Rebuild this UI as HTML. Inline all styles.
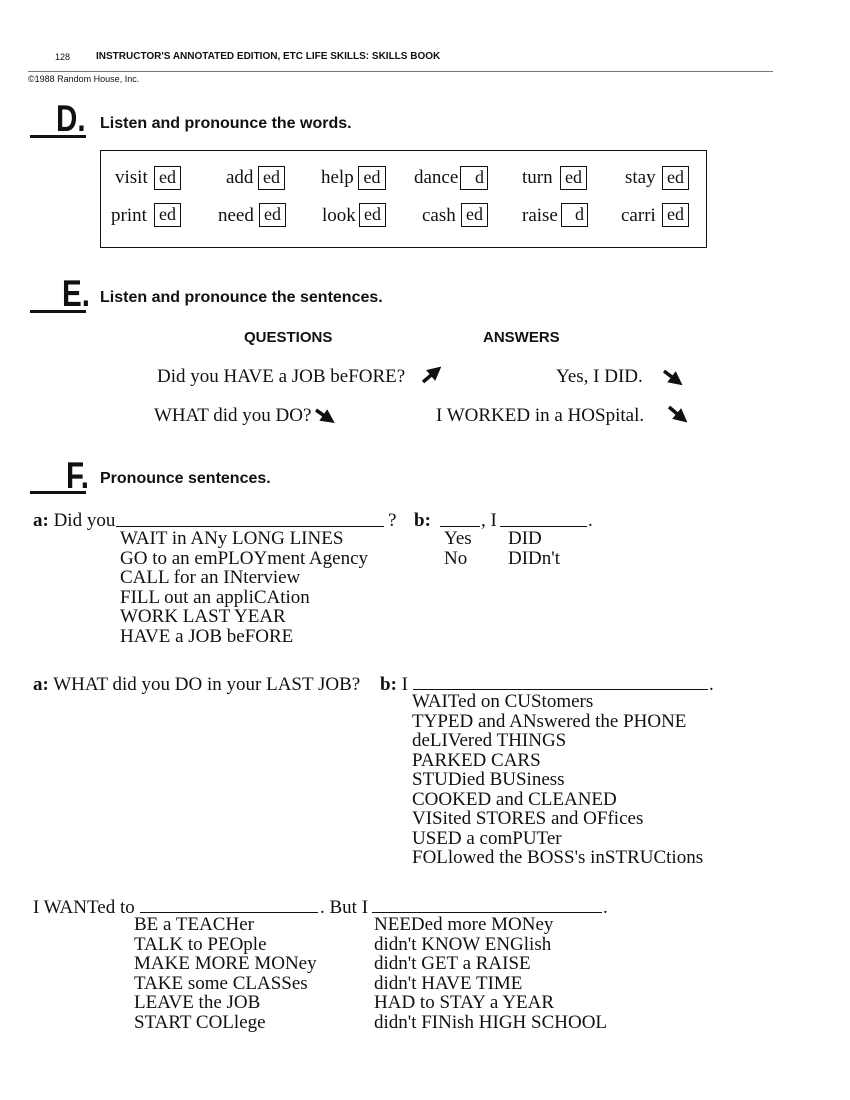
<!DOCTYPE html>
<html><head><meta charset="utf-8"><style>
body{margin:0;background:#fff;}
#p{position:relative;width:850px;height:1100px;overflow:hidden;background:#fff;color:#111;}
.s{position:absolute;font-family:"Liberation Serif",serif;font-size:19px;line-height:20px;white-space:nowrap;}
.a{position:absolute;font-family:"Liberation Sans",sans-serif;white-space:nowrap;}
.b{position:absolute;border:1.5px solid #111;box-sizing:border-box;font-family:"Liberation Serif",serif;font-size:18px;line-height:21px;text-align:center;}
.L{position:absolute;font-family:"Liberation Sans",sans-serif;font-weight:bold;font-size:37px;line-height:37px;transform:scaleX(0.8);transform-origin:left;}
.u{position:absolute;height:2.5px;background:#111;}
.h{position:absolute;font-family:"Liberation Sans",sans-serif;font-weight:bold;font-size:16px;line-height:18px;}
.ln{position:absolute;height:1px;background:#111;}
</style></head><body><div id="p">
<div class="a" style="left:55px;top:52px;font-size:9px;">128</div>
<div class="a" style="left:96px;top:51px;font-size:10px;font-weight:bold;">INSTRUCTOR'S ANNOTATED EDITION, ETC LIFE SKILLS: SKILLS BOOK</div>
<div class="ln" style="left:28px;top:71px;width:745px;background:#777;"></div>
<div class="a" style="left:28px;top:74px;font-size:9px;">©1988 Random House, Inc.</div>

<div class="L" style="left:56px;top:100px;">D.</div>
<div class="u" style="left:30px;top:135px;width:56px;"></div>
<div class="h" style="left:100px;top:115px;">Listen and pronounce the words.</div>
<div style="position:absolute;left:100px;top:150px;width:607px;height:98px;border:1.5px solid #111;box-sizing:border-box;"></div>

<div class="s" style="left:115px;top:168px;">visit</div><div class="b" style="left:154px;top:166px;width:27px;height:24px;">ed</div>
<div class="s" style="left:226px;top:168px;">add</div><div class="b" style="left:258px;top:166px;width:27px;height:24px;">ed</div>
<div class="s" style="left:321px;top:168px;">help</div><div class="b" style="left:358px;top:166px;width:28px;height:24px;">ed</div>
<div class="s" style="left:414px;top:168px;">dance</div><div class="b" style="left:460px;top:166px;width:28px;height:24px;text-align:right;padding-right:3px;">d</div>
<div class="s" style="left:522px;top:168px;">turn</div><div class="b" style="left:560px;top:166px;width:27px;height:24px;">ed</div>
<div class="s" style="left:625px;top:168px;">stay</div><div class="b" style="left:662px;top:166px;width:27px;height:24px;">ed</div>

<div class="s" style="left:111px;top:206px;">print</div><div class="b" style="left:154px;top:203px;width:27px;height:24px;">ed</div>
<div class="s" style="left:218px;top:206px;">need</div><div class="b" style="left:259px;top:203px;width:27px;height:24px;">ed</div>
<div class="s" style="left:322px;top:206px;">look</div><div class="b" style="left:359px;top:203px;width:27px;height:24px;">ed</div>
<div class="s" style="left:422px;top:206px;">cash</div><div class="b" style="left:461px;top:203px;width:27px;height:24px;">ed</div>
<div class="s" style="left:522px;top:206px;">raise</div><div class="b" style="left:561px;top:203px;width:27px;height:24px;text-align:right;padding-right:3px;">d</div>
<div class="s" style="left:621px;top:206px;">carri</div><div class="b" style="left:662px;top:203px;width:27px;height:24px;">ed</div>

<div class="L" style="left:62px;top:275px;">E.</div>
<div class="u" style="left:30px;top:310px;width:56px;"></div>
<div class="h" style="left:100px;top:289px;">Listen and pronounce the sentences.</div>
<div class="h" style="left:244px;top:329px;font-size:15px;">QUESTIONS</div>
<div class="h" style="left:483px;top:329px;font-size:15px;">ANSWERS</div>
<div class="s" style="left:157px;top:367px;">Did you HAVE a JOB beFORE?</div>
<div class="s" style="left:556px;top:367px;">Yes, I DID.</div>
<div class="s" style="left:154px;top:406px;">WHAT did you DO?</div>
<div class="s" style="left:436px;top:406px;">I WORKED in a HOSpital.</div>
<svg style="position:absolute;left:0;top:0" width="850" height="1100">
<defs><marker id="m" markerWidth="4" markerHeight="4" refX="2" refY="2" orient="auto"><path d="M0,0L4,2L0,4z" fill="#111"/></marker></defs>
<g stroke="#111" stroke-width="3.5" marker-end="url(#m)">
<line x1="423" y1="382" x2="436" y2="371"/>
<line x1="664" y1="371" x2="677" y2="381"/>
<line x1="316" y1="410" x2="329" y2="419"/>
<line x1="669" y1="407" x2="682" y2="418"/>
</g></svg>

<div class="L" style="left:66px;top:457px;">F.</div>
<div class="u" style="left:30px;top:491px;width:56px;"></div>
<div class="h" style="left:100px;top:470px;">Pronounce sentences.</div>

<div class="s" style="left:33px;top:511px;"><b>a:</b> Did you</div>
<div class="ln" style="left:116px;top:526px;width:268px;"></div>
<div class="s" style="left:388px;top:511px;">?</div>
<div class="s" style="left:414px;top:511px;"><b>b:</b></div>
<div class="ln" style="left:440px;top:526px;width:40px;"></div>
<div class="s" style="left:481px;top:511px;">, I</div>
<div class="ln" style="left:500px;top:526px;width:87px;"></div>
<div class="s" style="left:588px;top:511px;">.</div>
<div class="s" style="left:120px;top:529px;line-height:19.5px;">WAIT in ANy LONG LINES<br>GO to an emPLOYment Agency<br>CALL for an INterview<br>FILL out an appliCAtion<br>WORK LAST YEAR<br>HAVE a JOB beFORE</div>
<div class="s" style="left:444px;top:529px;line-height:19.5px;">Yes<br>No</div>
<div class="s" style="left:508px;top:529px;line-height:19.5px;">DID<br>DIDn't</div>

<div class="s" style="left:33px;top:675px;"><b>a:</b> WHAT did you DO in your LAST JOB?</div>
<div class="s" style="left:380px;top:675px;"><b>b:</b> I</div>
<div class="ln" style="left:413px;top:689px;width:295px;"></div>
<div class="s" style="left:709px;top:675px;">.</div>
<div class="s" style="left:412px;top:692px;line-height:19.5px;">WAITed on CUStomers<br>TYPED and ANswered the PHONE<br>deLIVered THINGS<br>PARKED CARS<br>STUDied BUSiness<br>COOKED and CLEANED<br>VISited STORES and OFfices<br>USED a comPUTer<br>FOLlowed the BOSS's inSTRUCtions</div>

<div class="s" style="left:33px;top:898px;">I WANTed to</div>
<div class="ln" style="left:140px;top:912px;width:178px;"></div>
<div class="s" style="left:320px;top:898px;">. But I</div>
<div class="ln" style="left:372px;top:912px;width:230px;"></div>
<div class="s" style="left:603px;top:898px;">.</div>
<div class="s" style="left:134px;top:915px;line-height:19.5px;">BE a TEACHer<br>TALK to PEOple<br>MAKE MORE MONey<br>TAKE some CLASSes<br>LEAVE the JOB<br>START COLlege</div>
<div class="s" style="left:374px;top:915px;line-height:19.5px;">NEEDed more MONey<br>didn't KNOW ENGlish<br>didn't GET a RAISE<br>didn't HAVE TIME<br>HAD to STAY a YEAR<br>didn't FINish HIGH SCHOOL</div>
</div></body></html>
